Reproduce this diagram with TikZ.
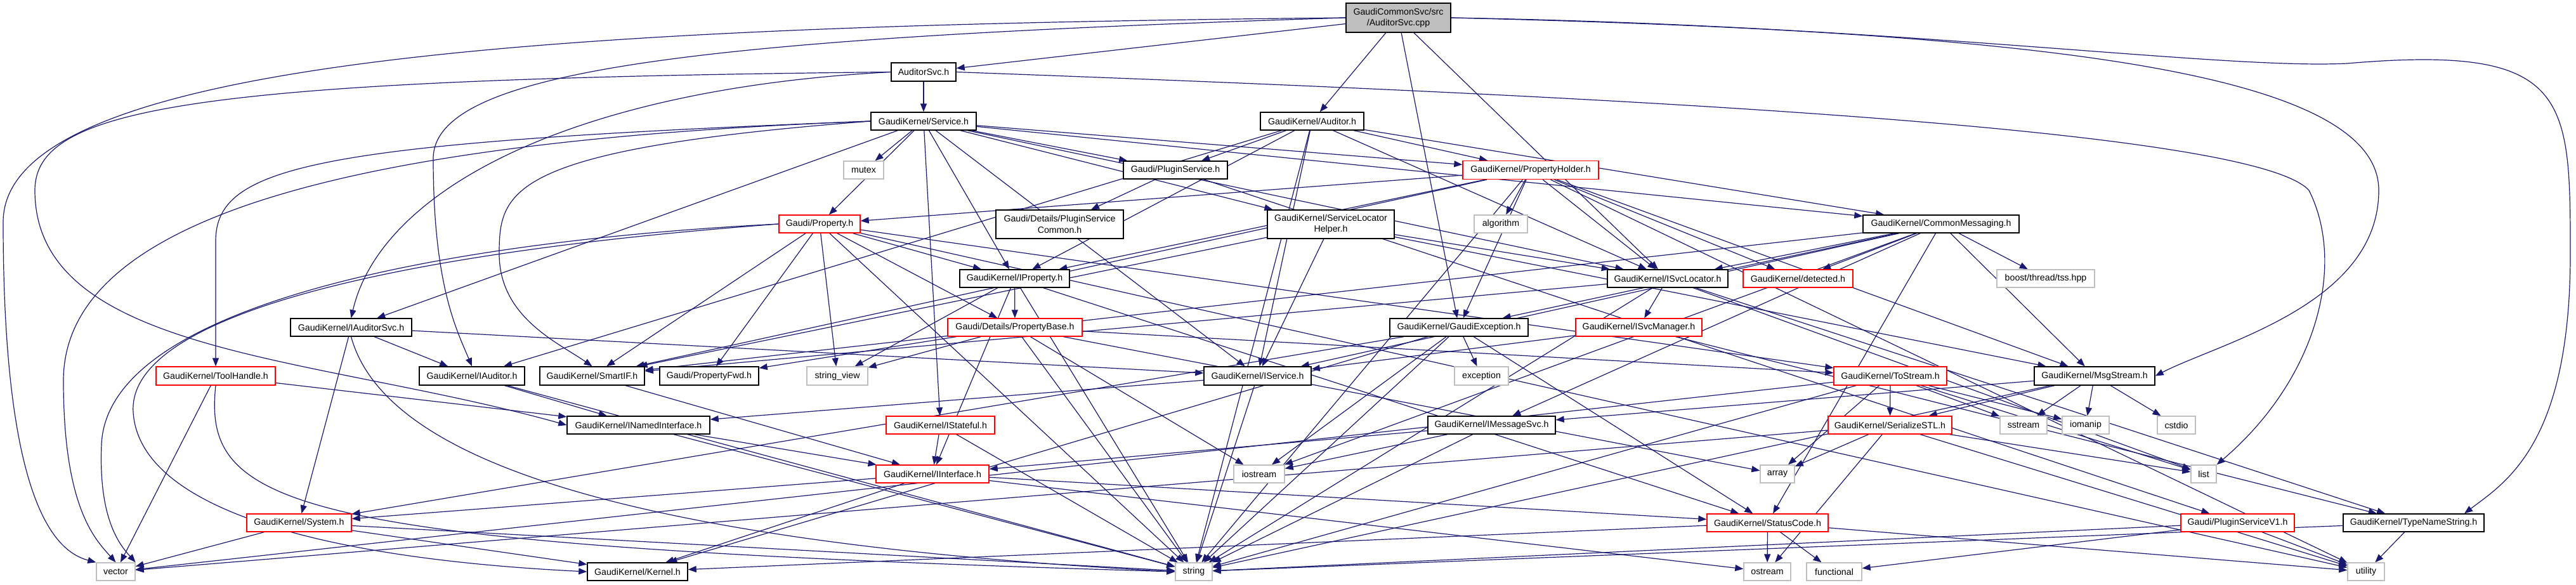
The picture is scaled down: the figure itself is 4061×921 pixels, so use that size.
\documentclass[tikz,border=0pt]{standalone}
\usepackage{fontspec}
\setmainfont{Liberation Sans}
\usetikzlibrary{arrows.meta,calc}
\definecolor{edgec}{HTML}{191970}
\definecolor{boxgray}{HTML}{BFBFBF}
\pgfdeclarelayer{bg}
\pgfsetlayers{bg,main}
\tikzset{
  every node/.style={font=\fontsize{7.1pt}{8.6pt}\selectfont, inner sep=0pt, align=center},
  nb/.style={draw=black, line width=0.7pt, fill=white, rectangle},
  nr/.style={draw=red, line width=0.7pt, fill=white, rectangle},
  ng/.style={draw=boxgray, line width=0.7pt, fill=white, rectangle},
  nm/.style={draw=black, line width=0.7pt, fill=boxgray, rectangle},
  sz/.style 2 args={minimum width={#1*0.5pt}, minimum height={#2*0.5pt}},
  e/.style={draw=edgec, line width=0.6pt, -{Triangle[length=6.5pt,width=5pt]}},
}
\begin{document}
\begin{tikzpicture}[x=0.5pt,y=-0.5pt]
\useasboundingbox (0,0) rectangle (4061,921);
\node[nm, sz={165}{46}] (cpp) at (2204.5,28) {GaudiCommonSvc/src\\/AuditorSvc.cpp};
\node[nb, sz={102}{29}] (asvch) at (1456,113.5) {AuditorSvc.h};
\node[nb, sz={166}{28}] (service) at (1456,191) {GaudiKernel/Service.h};
\node[nb, sz={163}{28}] (auditor) at (2068.5,191) {GaudiKernel/Auditor.h};
\node[ng, sz={63}{28}] (mutex) at (1361.5,268) {mutex};
\node[nb, sz={164}{28}] (pluginsvc) at (1853,268) {Gaudi/PluginService.h};
\node[nr, sz={214}{29}] (propholder) at (2413,268) {GaudiKernel/PropertyHolder.h};
\node[nr, sz={128}{28}] (property) at (1292,353) {Gaudi/Property.h};
\node[nb, sz={201}{45}] (pscommon) at (1670.5,353.5) {Gaudi/Details/PluginService\\Common.h};
\node[nb, sz={200}{45}] (slhelper) at (2098,353.5) {GaudiKernel/ServiceLocator\\Helper.h};
\node[ng, sz={84}{28}] (algorithm) at (2366,353) {algorithm};
\node[nb, sz={246}{28}] (commonmsg) at (3060,353) {GaudiKernel/CommonMessaging.h};
\node[nb, sz={173}{28}] (iproperty) at (1599.5,439) {GaudiKernel/IProperty.h};
\node[nb, sz={190}{28}] (isvcloc) at (2629,439) {GaudiKernel/ISvcLocator.h};
\node[nr, sz={173}{28}] (detected) at (2834.5,439) {GaudiKernel/detected.h};
\node[ng, sz={154}{28}] (tss) at (3225,439) {boost/thread/tss.hpp};
\node[nb, sz={191}{28}] (iauditorsvc) at (553.5,516) {GaudiKernel/IAuditorSvc.h};
\node[nr, sz={212}{28}] (propbase) at (1600,516) {Gaudi/Details/PropertyBase.h};
\node[nb, sz={218}{28}] (gaudiexc) at (2300,516) {GaudiKernel/GaudiException.h};
\node[nr, sz={199}{28}] (isvcmgr) at (2583.5,516) {GaudiKernel/ISvcManager.h};
\node[nr, sz={188}{29}] (toolhandle) at (340,592.5) {GaudiKernel/ToolHandle.h};
\node[nb, sz={166}{29}] (iauditor) at (744,592.5) {GaudiKernel/IAuditor.h};
\node[nb, sz={165}{29}] (smartif) at (933.5,592.5) {GaudiKernel/SmartIF.h};
\node[nb, sz={156}{29}] (propfwd) at (1118,592.5) {Gaudi/PropertyFwd.h};
\node[ng, sz={96}{29}] (stringview) at (1320,592.5) {string\_view};
\node[nb, sz={169}{29}] (iservice) at (1982.5,592.5) {GaudiKernel/IService.h};
\node[ng, sz={85}{29}] (exception) at (2335.5,592.5) {exception};
\node[nr, sz={178}{29}] (tostream) at (2980,592.5) {GaudiKernel/ToStream.h};
\node[nb, sz={190}{29}] (msgstream) at (3302,592.5) {GaudiKernel/MsgStream.h};
\node[nb, sz={225}{28}] (inamed) at (1006.5,670) {GaudiKernel/INamedInterface.h};
\node[nr, sz={171}{28}] (istateful) at (1482.5,670) {GaudiKernel/IStateful.h};
\node[nb, sz={201}{28}] (imessagesvc) at (2351.5,670) {GaudiKernel/IMessageSvc.h};
\node[nr, sz={195}{28}] (serialize) at (2979.5,670) {GaudiKernel/SerializeSTL.h};
\node[ng, sz={74}{28}] (sstream) at (3190,670) {sstream};
\node[ng, sz={74}{28}] (iomanip) at (3288,670) {iomanip};
\node[ng, sz={60}{28}] (cstdio) at (3431,670) {cstdio};
\node[nr, sz={178}{28}] (iinterface) at (1470,747) {GaudiKernel/IInterface.h};
\node[ng, sz={80}{28}] (iostream) at (1985,747) {iostream};
\node[ng, sz={54}{28}] (array) at (2802,747) {array};
\node[ng, sz={40}{28}] (list) at (3474,747) {list};
\node[nr, sz={165}{28}] (system) at (471.5,824) {GaudiKernel/System.h};
\node[nr, sz={191}{28}] (statuscode) at (2786.5,824) {GaudiKernel/StatusCode.h};
\node[nr, sz={179}{28}] (pluginv1) at (3527.5,824) {Gaudi/PluginServiceV1.h};
\node[nb, sz={222}{28}] (typename) at (3805,824) {GaudiKernel/TypeNameString.h};
\node[ng, sz={61}{28}] (vector) at (182.5,901) {vector};
\node[nb, sz={158}{28}] (kernel) at (1005,901) {GaudiKernel/Kernel.h};
\node[ng, sz={58}{28}] (string) at (1882,901) {string};
\node[ng, sz={74}{28}] (ostream) at (2786,901) {ostream};
\node[ng, sz={87}{28}] (functional) at (2891.5,901) {functional};
\node[ng, sz={58}{28}] (utility) at (3730,901) {utility};
\begin{pgfonlayer}{bg}
\foreach \a/\b in {cpp/asvch, cpp/auditor, cpp/gaudiexc, cpp/isvcloc,
 asvch/service,
 service/mutex, service/pluginsvc, service/property, service/commonmsg, service/propholder, service/slhelper, service/iproperty, service/iservice, service/isvcloc, service/iauditorsvc, service/istateful,
 auditor/pluginsvc, auditor/propholder, auditor/commonmsg, auditor/iauditor, auditor/iproperty, auditor/iservice, auditor/isvcloc, auditor/string,
 pluginsvc/pscommon, pluginsvc/pluginv1,
 propholder/property, propholder/gaudiexc, propholder/iproperty, propholder/isvcloc, propholder/detected, propholder/algorithm, propholder/smartif, propholder/msgstream, propholder/string, propholder/utility,
 property/propbase, property/propfwd, property/iproperty, property/smartif, property/stringview, property/string, property/tostream, property/utility,
 slhelper/isvcloc, slhelper/iservice, slhelper/smartif, slhelper/msgstream,
 commonmsg/isvcloc, commonmsg/detected, commonmsg/tss, commonmsg/msgstream, commonmsg/imessagesvc, commonmsg/gaudiexc, commonmsg/smartif, commonmsg/iservice, commonmsg/iostream, commonmsg/statuscode,
 iproperty/propbase, iproperty/iinterface, iproperty/stringview, iproperty/string, iproperty/statuscode,
 isvcloc/isvcmgr, isvcloc/smartif, isvcloc/typename, isvcloc/list, isvcloc/string,
 isvcmgr/iservice, isvcmgr/typename,
 gaudiexc/exception, gaudiexc/statuscode, gaudiexc/kernel, gaudiexc/system, gaudiexc/string, gaudiexc/iostream,
 iauditorsvc/iservice, iauditorsvc/iauditor, iauditorsvc/system,
 toolhandle/inamed, toolhandle/vector,
 iauditor/inamed, iauditor/string,
 smartif/iinterface,
 inamed/iinterface, inamed/string,
 propbase/propfwd, propbase/stringview, propbase/string, propbase/iostream, propbase/tostream, propbase/array,
 iservice/inamed, iservice/string,
 istateful/iinterface, istateful/string,
 iinterface/system, iinterface/kernel, iinterface/statuscode, iinterface/ostream,
 imessagesvc/iinterface, imessagesvc/iostream, imessagesvc/string,
 tostream/serialize, tostream/array, tostream/sstream, tostream/iomanip, tostream/list, tostream/string, tostream/vector,
 serialize/array, serialize/ostream, serialize/list, serialize/utility, serialize/vector,
 msgstream/imessagesvc, msgstream/serialize, msgstream/sstream, msgstream/iomanip, msgstream/cstdio, msgstream/string,
 statuscode/ostream, statuscode/functional, statuscode/utility, statuscode/kernel,
 system/vector, system/kernel, system/string,
 pluginv1/string, pluginv1/utility, pluginv1/functional,
 typename/string, typename/utility}
 \draw[e] (\a) -- (\b);
% long routed edges
\draw[e] (cpp.west) .. controls (900,40) and (5,90) .. (5,350) .. controls (5,800) and (90,870) .. (vector.north west);
\draw[e] (asvch.west) .. controls (300,125) and (55,170) .. (55,300) .. controls (55,560) and (500,560) .. (inamed.west);
\draw[e] (cpp.west) .. controls (1100,60) and (683,110) .. (683,250) .. controls (683,450) and (720,520) .. (iauditor.north);
\draw[e] (asvch.west) .. controls (900,140) and (600,300) .. (iauditorsvc.north);
\draw[e] (cpp.east) .. controls (3000,40) and (3500,110) .. (3700,100) .. controls (4050,70) and (4052,150) .. (4052,400) .. controls (4052,700) and (3950,760) .. ($(typename.north)+(80,0)$);
\draw[e] (cpp.east) .. controls (3200,50) and (3750,110) .. (3750,300) .. controls (3750,480) and (3500,540) .. (msgstream.east);
\draw[e] (asvch.east) .. controls (2500,150) and (3550,200) .. (3640,300) .. controls (3700,420) and (3650,600) .. (list.north east);
\draw[e] (service.west) .. controls (600,220) and (100,330) .. (100,600) .. controls (100,800) and (150,850) .. (vector.north);
\draw[e] (service.west) .. controls (500,225) and (340,260) .. (340,380) -- (toolhandle.north);
\draw[e] (service.west) .. controls (800,235) and (787,300) .. (787,400) .. controls (787,500) and (880,540) .. (smartif.north);
\draw[e] (property.west) .. controls (700,380) and (170,480) .. (160,700) .. controls (155,820) and (190,860) .. (vector.north east);
\draw[e] (property.west) .. controls (600,400) and (200,500) .. (210,650) .. controls (220,800) and (500,880) .. (kernel.west);
\draw[e] (toolhandle.south) .. controls (320,800) and (450,860) .. (string.west);
\draw[e] (iauditorsvc.south) .. controls (600,700) and (900,850) .. (string.west);
\end{pgfonlayer}
\end{tikzpicture}
\end{document}
